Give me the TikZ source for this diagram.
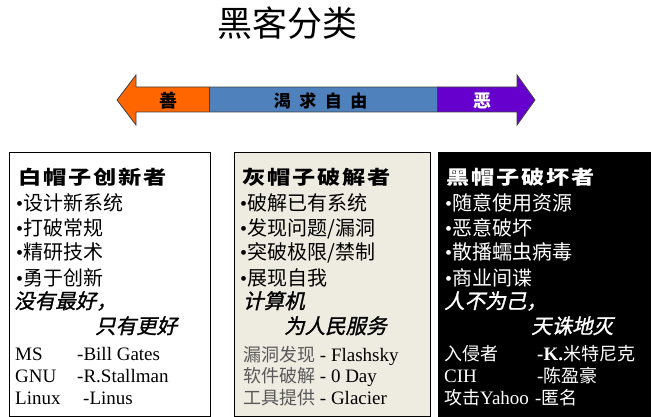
\documentclass[tikz,border=0pt]{standalone}
\usepackage{fontspec}
\setmainfont{Liberation Serif}
\newfontfamily\zh{Noto Sans CJK SC}
\newfontfamily\zhhead[LetterSpace=8]{Noto Sans CJK SC}
\newfontfamily\zhit[FakeSlant=0.22,FakeBold=1.2]{Noto Sans CJK SC}
\newfontfamily\zhwide[LetterSpace=50]{Noto Sans CJK SC}
\definecolor{goodorange}{HTML}{FF6600}
\definecolor{freeblue}{HTML}{4F81BD}
\definecolor{evilpurple}{HTML}{6600CC}
\definecolor{graypaper}{HTML}{EEECE1}
\tikzset{
  panel/.style={draw=black, line width=1pt, anchor=north west, inner sep=0pt},
  band/.style={draw=black!75, line width=0.8pt, line join=miter},
  line/.style={anchor=base west, inner sep=0pt},
  head/.style={line, font=\zhhead\bfseries\fontsize{19}{19}\selectfont},
  item/.style={line, font=\fontsize{20}{20}\selectfont},
  motto/.style={line, font=\zhit\fontsize{20.5}{20.5}\selectfont},
  who/.style={line, font=\fontsize{19}{19}\selectfont},
}
\newcommand{\bul}{\textbullet\zh}
\newcommand{\wide}[1]{\scalebox{1.22}[1]{#1}}
\newcommand{\zs}[1]{{\zh\fontsize{18}{18}\selectfont #1}}
\begin{document}
\begin{tikzpicture}[x=1pt, y=-1pt]
\useasboundingbox (0,0) rectangle (655,417);

% title
\node[font=\zh\fontsize{35}{35}\selectfont, inner sep=0pt] (title) at (287.5,23) {黑客分类};

% the good--evil scale
\coordinate (tipL) at (117,100);
\coordinate (tipR) at (535,100);
\fill[goodorange] (tipL) -- (136,75) -- (136,87) -- (209,87) -- (209,112) -- (136,112) -- (136,125) -- cycle;
\fill[freeblue] (209,87) rectangle (437,112);
\fill[evilpurple] (437,87) -- (517,87) -- (517,75) -- (tipR) -- (517,125) -- (517,112) -- (437,112) -- cycle;
\draw[band] (tipL) -- (136,75) -- (136,87) -- (517,87) -- (517,75) -- (tipR) -- (517,125) -- (517,112) -- (136,112) -- (136,125) -- cycle;
\draw[band] (209,87) -- (209,112) (437,87) -- (437,112);
\node[font=\zh\bfseries\fontsize{18}{18}\selectfont, inner sep=0pt] (good) at (168,101) {善};
\node[font=\zhwide\bfseries\fontsize{17}{17}\selectfont, inner sep=0pt] (free) at (320.5,101) {渴求自由};
\node[font=\zh\bfseries\fontsize{18}{18}\selectfont, text=white, inner sep=0pt] (evil) at (482,101) {恶};

% panels
\node[panel, fill=white, minimum width=201pt, minimum height=264pt] (whitebox) at (9,152) {};
\node[panel, fill=graypaper, minimum width=196pt, minimum height=264pt] (graybox) at (234,152) {};
\node[panel, draw=none, fill=black, minimum width=213pt, minimum height=266pt] (blackbox) at (437,151) {};

% white hat
\node[head] (w0) at (18,184) {\wide{白帽子创新者}};
\node[item] (w1) at (16,210.5) {\bul 设计新系统};
\node[item] (w2) at (16,235) {\bul 打破常规};
\node[item] (w3) at (16,259.5) {\bul 精研技术};
\node[item] (w4) at (16,285) {\bul 勇于创新};
\node[motto] (w5) at (14,308.5) {没有最好，};
\node[motto] (w6) at (95,333.5) {只有更好};
\node[who] (w7a) at (15,360) {MS};
\node[who] (w7b) at (77,360) {-Bill Gates};
\node[who] (w8a) at (15,382) {GNU};
\node[who] (w8b) at (77,382) {-R.Stallman};
\node[who] (w9a) at (15,404) {Linux};
\node[who] (w9b) at (83,404) {-Linus};

% gray hat
\node[head] (g0) at (242,184) {\wide{灰帽子破解者}};
\node[item] (g1) at (240,210.5) {\bul 破解已有系统};
\node[item] (g2) at (240,235) {\bul 发现问题/漏洞};
\node[item] (g3) at (240,259.5) {\bul 突破极限/禁制};
\node[item] (g4) at (240,285) {\bul 展现自我};
\node[motto] (g5) at (243,308.5) {计算机};
\node[motto] (g6) at (284,333.5) {为人民服务};
\node[who] (g7) at (243,361) {{\color{black!65}\zs{漏洞发现}} - Flashsky};
\node[who] (g8) at (243,382.5) {{\color{black!65}\zs{软件破解}} - 0 Day};
\node[who] (g9) at (243,404) {{\color{black!65}\zs{工具提供}} - Glacier};

% black hat
\begin{scope}[every node/.append style={text=white}]
\node[head] (b0) at (446,184) {\wide{黑帽子破坏者}};
\node[item] (b1) at (445,210.5) {\bul 随意使用资源};
\node[item] (b2) at (445,235) {\bul 恶意破坏};
\node[item] (b3) at (445,259.5) {\bul 散播蠕虫病毒};
\node[item] (b4) at (445,285) {\bul 商业间谍};
\node[motto] (b5) at (444,308.5) {人不为己，};
\node[motto] (b6) at (531,333.5) {天诛地灭};
\node[who] (b7a) at (444,360) {\zs{入侵者}};
\node[who] (b7b) at (537,360) {\textbf{-K.}\zs{米特尼克}};
\node[who] (b8a) at (444,382) {CIH};
\node[who] (b8b) at (537,382) {-\zs{陈盈豪}};
\node[who] (b9a) at (444,404) {\zs{攻击}Yahoo};
\node[who] (b9b) at (535,404) {-\zs{匿名}};
\end{scope}
\end{tikzpicture}
\end{document}
